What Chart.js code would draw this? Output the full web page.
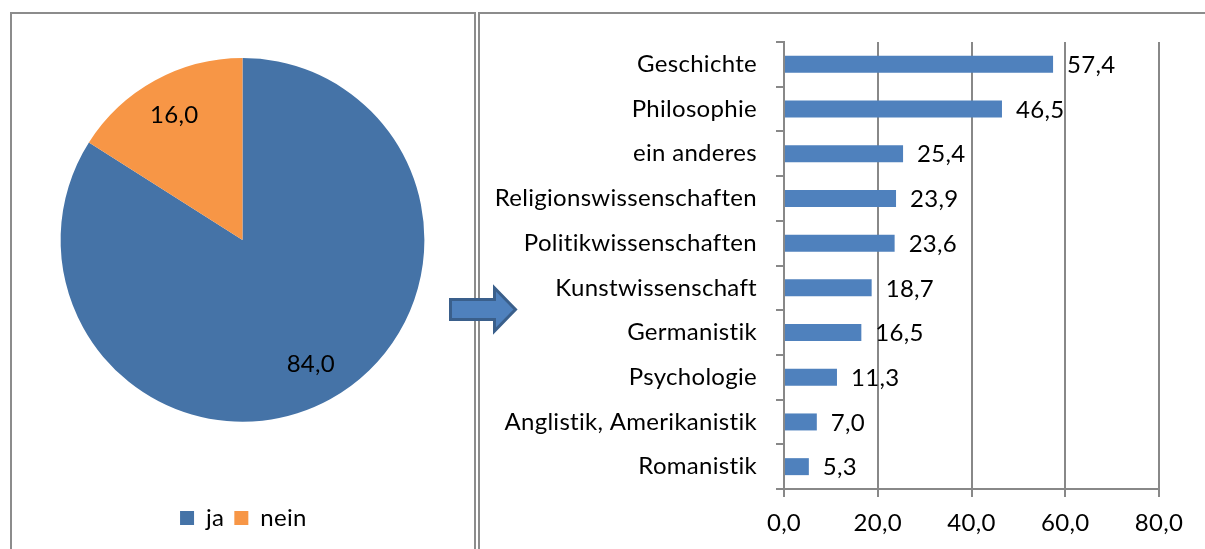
<!DOCTYPE html>
<html lang="de">
<head>
<meta charset="utf-8">
<title>Studienfächer</title>
<script src="https://cdn.jsdelivr.net/npm/chart.js@4.4.1/dist/chart.umd.min.js"></script>
<style>
  html, body { margin: 0; padding: 0; background: #fff; }
  body { width: 1205px; height: 549px; position: relative; overflow: hidden; }
  .panel { position: absolute; border: 2px solid #8c8c8c; box-sizing: border-box; }
  #panelPie { left: 10px; top: 12px; width: 466px; height: 600px; }
  #panelBar { left: 478px; top: 12px; width: 800px; height: 600px; }
  canvas { position: absolute; }
  #chartPie { left: 12px; top: 14px; }
  #chartBar { left: 480px; top: 14px; }
  #pfeil { position: absolute; left: 0; top: 0; pointer-events: none; }
</style>
</head>
<body>
<div class="panel" id="panelPie"></div>
<div class="panel" id="panelBar"></div>
<canvas id="chartPie" width="461" height="535"></canvas>
<canvas id="chartBar" width="725" height="535"></canvas>
<svg id="pfeil" width="1205" height="549">
  <polygon points="450.5,299.5 494.5,299.5 494.5,288 515.5,309.5 494.5,331 494.5,319.5 450.5,319.5"
           fill="#4f81bd" stroke="#3a5f8b" stroke-width="3" stroke-linejoin="miter"/>
</svg>
<script>
    // Daten
    const pieLabels = ['ja', 'nein'];
    const pieValues = [84.0, 16.0];
    const pieColors = ['#4573a7', '#f79646'];

    const faecher = [
        'Geschichte',
        'Philosophie',
        'ein anderes',
        'Religionswissenschaften',
        'Politikwissenschaften',
        'Kunstwissenschaft',
        'Germanistik',
        'Psychologie',
        'Anglistik, Amerikanistik',
        'Romanistik'
    ];
    const anteile = [57.4, 46.5, 25.4, 23.9, 23.6, 18.7, 16.5, 11.3, 7.0, 5.3];
    const xTicks = [0, 20, 40, 60, 80];

    const fmt = v => v.toFixed(1).replace('.', ',');
    const gridGrau = '#888888';

    Chart.defaults.font.family = 'Lato, sans-serif';
    Chart.defaults.font.size = 24;
    Chart.defaults.color = '#000';

    // leichte Sperrung, damit keine ti/ft-Ligaturen entstehen
    const textPlugin = {
        id: 'textSetup',
        beforeDraw(chart) {
            chart.ctx.letterSpacing = '0.3px';
        }
    };

    const pieLabelPlugin = {
        id: 'pieLabels',
        afterDatasetsDraw(chart) {
            const ctx = chart.ctx;
            const meta = chart.getDatasetMeta(0);
            ctx.save();
            ctx.font = '24px Lato, sans-serif';
            ctx.fillStyle = '#000';
            ctx.textAlign = 'center';
            ctx.textBaseline = 'middle';
            meta.data.forEach((arc, i) => {
                const p = arc.getProps(['x', 'y', 'startAngle', 'endAngle', 'outerRadius'], true);
                const mid = (p.startAngle + p.endAngle) / 2;
                const r = p.outerRadius * 0.78;
                ctx.fillText(fmt(pieValues[i]), p.x + Math.cos(mid) * r, p.y + Math.sin(mid) * r);
            });
            ctx.restore();
        }
    };

    const barLabelPlugin = {
        id: 'barLabels',
        afterDatasetsDraw(chart) {
            const ctx = chart.ctx;
            const meta = chart.getDatasetMeta(0);
            ctx.save();
            ctx.font = '24px Lato, sans-serif';
            ctx.fillStyle = '#000';
            ctx.textAlign = 'left';
            ctx.textBaseline = 'middle';
            meta.data.forEach((bar, i) => {
                ctx.fillText(fmt(anteile[i]), bar.x + 14, bar.y + 1);
            });
            ctx.restore();
        }
    };

    new Chart(document.getElementById('chartPie').getContext('2d'), {
        type: 'pie',
        data: {
            labels: pieLabels,
            datasets: [{
                data: pieValues,
                backgroundColor: pieColors,
                borderWidth: 0
            }]
        },
        options: {
            responsive: false,
            animation: false,
            layout: { padding: { top: 44, bottom: 9, left: 0, right: 0 } },
            plugins: {
                tooltip: { enabled: false },
                legend: {
                    position: 'bottom',
                    title: { display: true, text: ' ', padding: { top: 73, bottom: 0 }, font: { size: 1 } },
                    labels: { boxWidth: 14, boxHeight: 14, padding: 10, color: '#000' }
                }
            }
        },
        plugins: [textPlugin, pieLabelPlugin]
    });

    new Chart(document.getElementById('chartBar').getContext('2d'), {
        type: 'bar',
        data: {
            labels: faecher,
            datasets: [{
                data: anteile,
                backgroundColor: '#4f81bd',
                barPercentage: 0.38,
                categoryPercentage: 1
            }]
        },
        options: {
            indexAxis: 'y',
            responsive: false,
            animation: false,
            layout: { padding: { top: 28, right: 46, left: 0, bottom: 0 } },
            plugins: {
                legend: { display: false },
                tooltip: { enabled: false }
            },
            scales: {
                x: {
                    min: 0,
                    max: 80,
                    afterBuildTicks: scale => { scale.ticks = xTicks.map(v => ({ value: v })); },
                    afterFit: scale => { scale.height = 60; },
                    ticks: { callback: v => fmt(v), padding: 12, color: '#000' },
                    grid: { color: gridGrau, lineWidth: 2, tickLength: 8 },
                    border: { color: gridGrau, width: 2 }
                },
                y: {
                    afterFit: scale => {
                        scale.width = 304;
                        scale.paddingTop = 0;
                        scale.paddingBottom = 0;
                    },
                    ticks: { padding: 19, color: '#000' },
                    grid: { offset: true, drawOnChartArea: false, color: gridGrau, lineWidth: 2, tickLength: 8 },
                    border: { color: gridGrau, width: 2 }
                }
            }
        },
        plugins: [textPlugin, barLabelPlugin]
    });
</script>
</body>
</html>
